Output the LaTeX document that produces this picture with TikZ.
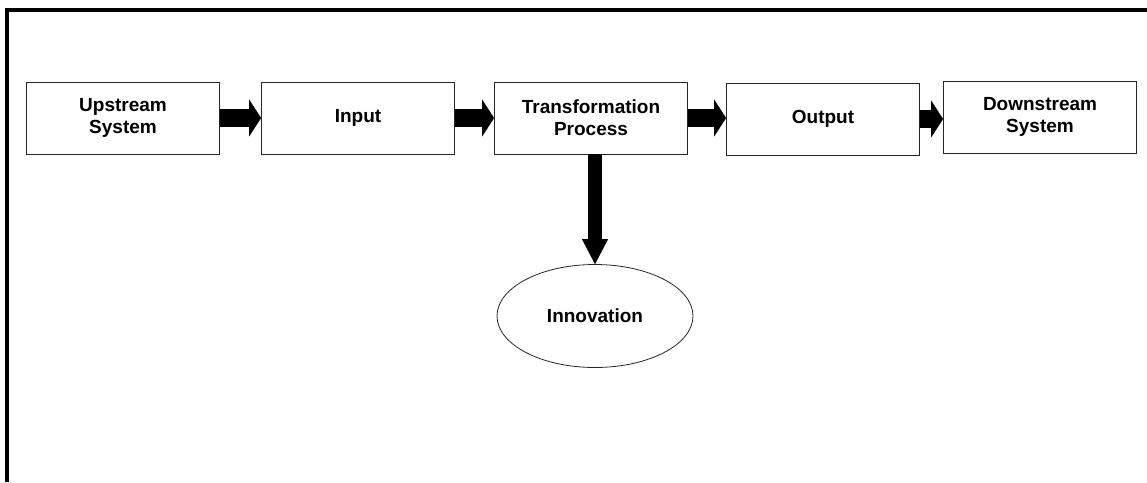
\documentclass[tikz,border=0pt]{standalone}
\usepackage{fontspec}
\setmainfont{Liberation Sans}
\usetikzlibrary{arrows.meta,shapes.geometric}
\begin{document}
\begin{tikzpicture}[x=1pt,y=-1pt,
  stagebox/.style={draw=black!85,line width=0.9pt,minimum width=193pt,minimum height=72pt,
    inner sep=0pt,align=center,font=\bfseries\fontsize{19}{22}\selectfont},
  flowarrow/.style={line width=18pt,-{Triangle[length=12pt,width=37pt,line width=0.1pt]}},
  droparrow/.style={line width=14pt,-{Triangle[length=25pt,width=26pt,line width=0.1pt]}}]
  \useasboundingbox (0,0) rectangle (1147,482);
  % page frame (left and top edges)
  \draw[line width=3.2pt] (7,482) -- (7,10) -- (1147,10);
  % stages of the system
  \node[stagebox] (up)   at (123,118) {Upstream\\System};
  \node[stagebox] (in)   at (358,118) {Input};
  \node[stagebox] (tp)   at (591,118) {Transformation\\Process};
  \node[stagebox] (out)  at (823,119) {Output};
  \node[stagebox] (down) at (1040,117) {Downstream\\System};
  \node[ellipse,draw=black!85,line width=0.8pt,minimum width=196pt,minimum height=103pt,inner sep=0pt,
    font=\bfseries\fontsize{19}{22}\selectfont] (inno) at (595,316) {Innovation};
  % flow arrows, kept horizontal between neighbouring stages
  \draw[flowarrow] (up.east) -- (up.east -| in.west);
  \draw[flowarrow] (in.east) -- (in.east -| tp.west);
  \draw[flowarrow] (tp.east) -- (tp.east -| out.west);
  \draw[flowarrow] (out.east) -- (out.east -| down.west);
  % vertical arrow down to the innovation ellipse
  \draw[droparrow] (tp.south -| inno.north) -- (inno.north);
\end{tikzpicture}
\end{document}
